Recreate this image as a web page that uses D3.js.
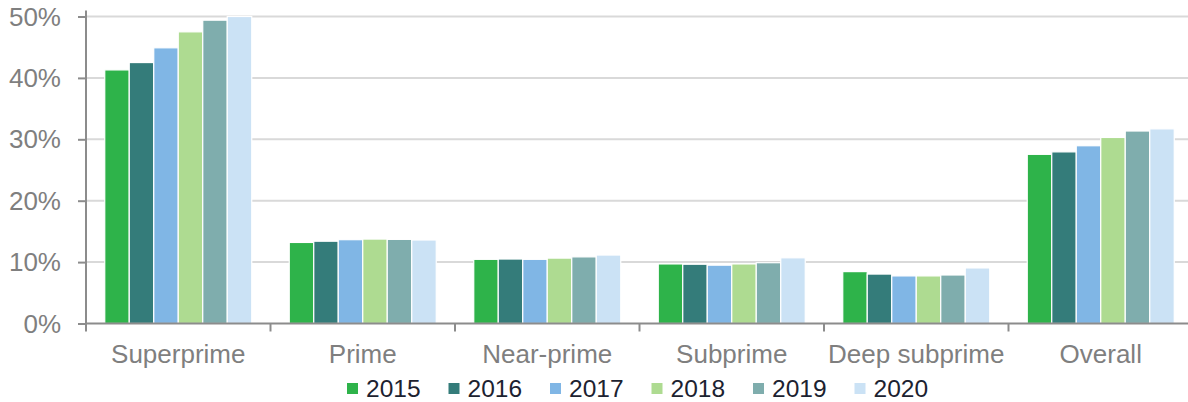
<!DOCTYPE html>
<html>
<head>
<meta charset="utf-8">
<script src="https://cdn.jsdelivr.net/npm/d3@7/dist/d3.min.js"></script>
<style>
  html, body { margin: 0; padding: 0; background: #fff; }
  svg { display: block; font-family: "Liberation Sans", Arial, sans-serif; }
</style>
</head>
<body>
<svg id="chart" width="1188" height="402"></svg>
<script>
const categories = ["Superprime", "Prime", "Near-prime", "Subprime", "Deep subprime", "Overall"];
const years = ["2015", "2016", "2017", "2018", "2019", "2020"];
const colors = ["#2eb34a", "#347c7a", "#80b6e5", "#aedb91", "#7fadad", "#cbe2f5"];
const values2015 = [41.3, 13.2, 10.45, 9.7, 8.45, 27.55];
const values2016 = [42.5, 13.4, 10.5, 9.65, 8.05, 27.95];
const values2017 = [44.9, 13.65, 10.45, 9.5, 7.75, 28.95];
const values2018 = [47.5, 13.75, 10.65, 9.7, 7.75, 30.3];
const values2019 = [49.4, 13.7, 10.85, 9.9, 7.9, 31.35];
const values2020 = [50.0, 13.6, 11.15, 10.7, 9.05, 31.7];
const yTicks = [0, 10, 20, 30, 40, 50];

const series = [values2015, values2016, values2017, values2018, values2019, values2020];

const svg = d3.select("#chart");
const x0 = 86, bandW = 184.5;
const x = d3.scaleBand().domain(categories).range([x0, x0 + bandW * categories.length]).padding(0);
const groupW = 147;
const xi = d3.scaleBand().domain(years)
  .range([(bandW - groupW) / 2, (bandW + groupW) / 2]).padding(0);
const y = d3.scaleLinear().domain([0, 50]).range([323.5, 16.5]);

// gridlines
svg.append("g").selectAll("line").data(yTicks.filter(d => d > 0)).join("line")
  .attr("x1", x0).attr("x2", 1188)
  .attr("y1", d => y(d)).attr("y2", d => y(d))
  .attr("stroke", "#d9d9d9").attr("stroke-width", 2);

// bars
const g = svg.append("g");
categories.forEach((c, ci) => {
  years.forEach((yr, yi) => {
    const v = series[yi][ci];
    g.append("rect")
      .attr("x", x(c) + xi(yr))
      .attr("y", y(v))
      .attr("width", xi.bandwidth())
      .attr("height", y(0) - y(v))
      .attr("fill", colors[yi])
      .attr("stroke", "#fff")
      .attr("stroke-width", 1.2);
  });
});

// y axis
const yAxis = d3.axisLeft(y).tickValues(yTicks).tickSize(8).tickPadding(17)
  .tickFormat(d => d + "%");
const ya = svg.append("g").attr("transform", `translate(${x0},0)`).call(yAxis);
ya.select(".domain").attr("stroke", "#8c8c8c").attr("stroke-width", 2)
  .attr("d", `M0,${y(50) - 6}V${y(0)}`);
ya.selectAll(".tick line").attr("stroke", "#8c8c8c").attr("stroke-width", 2);
ya.selectAll(".tick text").attr("fill", "#7f7f7f").style("font-size", "26px")
  .attr("font-family", "Liberation Sans, Arial, sans-serif").attr("dy", "0.33em");

// x axis
const xa = svg.append("g");
xa.append("line").attr("x1", x0).attr("x2", 1188).attr("y1", y(0)).attr("y2", y(0))
  .attr("stroke", "#8c8c8c").attr("stroke-width", 2);
xa.selectAll("line.sep").data(categories).join("line").attr("class", "sep")
  .attr("x1", d => x(d)).attr("x2", d => x(d))
  .attr("y1", y(0)).attr("y2", y(0) + 8)
  .attr("stroke", "#8c8c8c").attr("stroke-width", 2);
xa.selectAll("text").data(categories).join("text")
  .attr("x", d => x(d) + bandW / 2).attr("y", 363)
  .attr("text-anchor", "middle").attr("fill", "#7f7f7f")
  .style("font-size", "26px").text(d => d);

// legend
const lg = svg.append("g");
const legX = 347, legStep = 101.5;
years.forEach((yr, i) => {
  const lx = legX + i * legStep;
  lg.append("rect").attr("x", lx).attr("y", 383).attr("width", 11).attr("height", 11)
    .attr("fill", colors[i]);
  lg.append("text").attr("x", lx + 19).attr("y", 396.5)
    .attr("fill", "#1c2230").style("font-size", "24.5px").text(yr);
});
</script>
</body>
</html>
